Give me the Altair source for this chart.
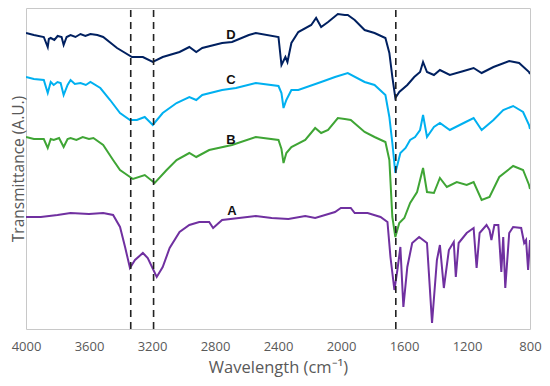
import altair as alt
import pandas as pd

# Wavenumbers (cm-1) and transmittance (arbitrary units, offset stacked)
wn_A = [4000, 3906, 3800, 3717, 3600, 3510, 3447, 3403, 3371, 3340, 3308, 3258, 3227, 3170, 3132,
        3088, 3025, 2963, 2900, 2837, 2812, 2755, 2648, 2541, 2440, 2334, 2227, 2164, 2038, 2001,
        1938, 1913, 1831, 1749, 1705, 1686, 1661, 1642, 1623, 1604, 1579, 1548, 1504, 1454, 1422,
        1391, 1372, 1347, 1315, 1284, 1271, 1253, 1202, 1158, 1139, 1120, 1076, 1057, 1045, 1026,
        1001, 982, 970, 957, 932, 907, 856, 837, 825, 812, 800]
t_A = [112, 112, 114, 116, 115, 116, 114, 102, 82, 61, 69, 76, 71, 52, 62,
       81, 97, 104, 107, 107, 101, 109, 111, 113, 111, 110, 113, 111, 117, 121,
       121, 116, 116, 112, 107, 72, 39, 59, 82, 22, 62, 86, 92, 86, 6,
       69, 84, 41, 79, 87, 52, 86, 96, 101, 61, 96, 104, 99, 89, 104,
       104, 57, 92, 41, 96, 102, 101, 86, 89, 59, 89]

wn_B = [4000, 3950, 3887, 3862, 3843, 3824, 3790, 3761, 3736, 3717, 3680, 3640, 3600, 3572, 3510,
        3447, 3403, 3321, 3246, 3183, 3107, 3044, 2963, 2919, 2837, 2692, 2541, 2397, 2378, 2365,
        2347, 2315, 2227, 2164, 2126, 2082, 2020, 1976, 1938, 1850, 1787, 1718, 1693, 1674, 1655,
        1630, 1598, 1561, 1517, 1479, 1454, 1410, 1372, 1328, 1265, 1202, 1158, 1107, 1057, 995,
        907, 844, 806, 800]
t_B = [192, 190, 190, 181, 190, 189, 191, 182, 190, 191, 189, 192, 190, 191, 184,
       169, 159, 150, 154, 146, 159, 169, 176, 172, 179, 184, 192, 189, 180, 166,
       176, 182, 189, 201, 196, 199, 211, 210, 209, 197, 192, 187, 169, 112, 92,
       106, 111, 126, 137, 161, 137, 136, 151, 142, 147, 144, 147, 129, 132, 152,
       163, 159, 144, 140]

wn_C = [4000, 3950, 3887, 3862, 3843, 3824, 3800, 3780, 3761, 3736, 3717, 3690, 3654, 3620, 3591,
        3528, 3466, 3403, 3340, 3296, 3246, 3195, 3132, 3044, 2963, 2919, 2881, 2755, 2667, 2541,
        2397, 2378, 2365, 2347, 2315, 2271, 2126, 2038, 1957, 1850, 1787, 1718, 1693, 1674, 1655,
        1623, 1590, 1561, 1530, 1498, 1479, 1454, 1410, 1372, 1309, 1221, 1158, 1107, 1032, 970,
        907, 844, 806, 800]
t_C = [252, 250, 249, 236, 247, 244, 247, 246, 234, 244, 249, 245, 246, 244, 247,
       241, 229, 216, 209, 209, 212, 204, 216, 226, 232, 229, 234, 239, 241, 246,
       243, 236, 221, 229, 239, 239, 247, 252, 256, 247, 244, 234, 212, 186, 156,
       176, 181, 189, 192, 199, 214, 192, 202, 206, 199, 206, 211, 199, 209, 219,
       223, 217, 204, 200]

wn_D = [4000, 3950, 3887, 3862, 3855, 3843, 3820, 3799, 3774, 3761, 3742, 3717, 3686, 3654, 3623,
        3591, 3547, 3510, 3422, 3327, 3258, 3195, 3132, 3025, 2963, 2919, 2881, 2755, 2692, 2585,
        2541, 2397, 2378, 2353, 2340, 2315, 2271, 2189, 2158, 2126, 2082, 2020, 1976, 1957, 1913,
        1850, 1787, 1718, 1693, 1674, 1655, 1630, 1579, 1535, 1498, 1479, 1454, 1410, 1372, 1309,
        1221, 1158, 1107, 1032, 932, 869, 806, 800]
t_D = [296, 294, 292, 282, 290, 291, 289, 293, 292, 284, 292, 294, 292, 295, 293,
       295, 294, 292, 281, 272, 272, 267, 272, 277, 282, 277, 281, 286, 287, 294,
       296, 292, 264, 272, 267, 286, 297, 304, 311, 302, 307, 315, 314, 314, 309,
       299, 296, 291, 276, 252, 231, 237, 244, 252, 257, 267, 257, 254, 259, 254,
       258, 261, 256, 262, 268, 266, 257, 255]

series_names = ["A", "B", "C", "D"]
series_colors = ["#7030A0", "#3FA535", "#00B0F0", "#002060"]

label_wn = [2692, 2699, 2699, 2699]
label_t = [118, 189, 249, 294]

dash_wn = [3335, 3190, 1652]
dash_top = [319, 319, 319]

x_ticks = [4000, 3600, 3200, 2800, 2400, 2000, 1600, 1200, 800]

rows = []
for name, wns, ts in [("A", wn_A, t_A), ("B", wn_B, t_B), ("C", wn_C, t_C), ("D", wn_D, t_D)]:
    for i, (w, t) in enumerate(zip(wns, ts)):
        rows.append({"series": name, "wn": w, "t": t, "order": i})
df = pd.DataFrame(rows)
df_lab = pd.DataFrame({"series": series_names, "wn": label_wn, "t": label_t})
df_dash = pd.DataFrame({"wn": dash_wn, "top": dash_top, "bottom": [0, 0, 0]})

FONT = "Open Sans"
xscale = alt.Scale(domain=[4000, 800], nice=False, zero=False)
yscale = alt.Scale(domain=[0, 321], nice=False, zero=False)

lines = alt.Chart(df).mark_line(strokeWidth=2, clip=True).encode(
    x=alt.X("wn:Q", scale=xscale,
            axis=alt.Axis(values=x_ticks, title="Wavelength (cm⁻¹)", grid=False, ticks=False,
                          domain=False, labelPadding=11, labelFontSize=13, labelColor="#595959",
                          labelFont=FONT, titleFont=FONT, titleFontSize=16.5, titleColor="#595959",
                          titleFontWeight="normal", titlePadding=6, format="d",
                          labelFlush=False)),
    y=alt.Y("t:Q", scale=yscale,
            axis=alt.Axis(labels=False, ticks=False, domain=False, grid=False,
                          title="Transmittance  (A.U.)", titleFont=FONT, titleFontSize=15.5,
                          titleColor="#595959", titleFontWeight="normal", titlePadding=0)),
    color=alt.Color("series:N", scale=alt.Scale(domain=series_names, range=series_colors), legend=None),
    detail="series:N",
    order="order:Q",
)

dashes = alt.Chart(df_dash).mark_rule(color="#222222", strokeWidth=1.6, strokeDash=[7, 5]).encode(
    x=alt.X("wn:Q", scale=xscale),
    y=alt.Y("top:Q", scale=yscale),
    y2="bottom:Q",
)

labels = alt.Chart(df_lab).mark_text(font="Liberation Sans", fontSize=13, fontWeight="bold",
                                     color="#111111", baseline="middle", align="center").encode(
    x=alt.X("wn:Q", scale=xscale),
    y=alt.Y("t:Q", scale=yscale),
    text="series:N",
)

chart = alt.layer(lines, dashes, labels).properties(
    width=504, height=321,
    autosize=alt.AutoSizeParams(type="none"),
    padding={"left": 18, "top": 0, "right": 12, "bottom": 50},
    background="white",
).configure_view(stroke="#C8C8C8", strokeWidth=1)

chart.save("out.html", embed_options={"renderer": "svg", "actions": False})
